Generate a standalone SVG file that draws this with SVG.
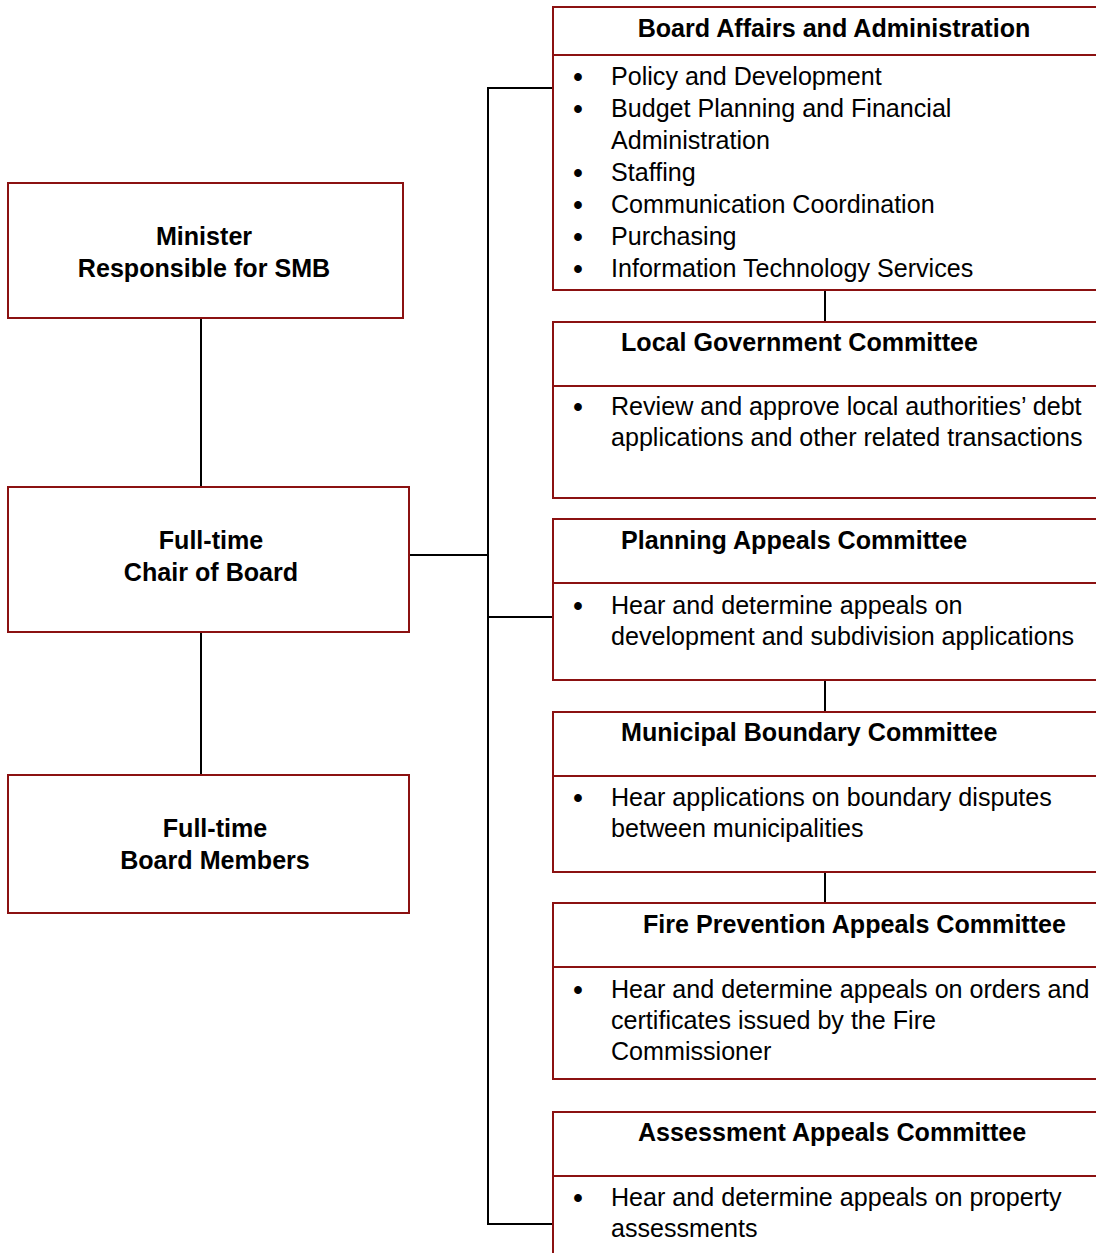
<svg xmlns="http://www.w3.org/2000/svg" width="1096" height="1253" viewBox="0 0 1096 1253">
<style>
.box{fill:#fff;stroke:#8B1111;stroke-width:2}
.div{stroke:#8B1111;stroke-width:2}
.con{stroke:#000;stroke-width:2;fill:none}
.t{font-family:"Liberation Sans",Arial,sans-serif;font-size:25.1px;fill:#000}
.b{font-weight:bold}
.c{text-anchor:middle}
.u{font-family:"Liberation Sans",Arial,sans-serif;font-size:27px;font-weight:bold;fill:#000;text-anchor:middle}
</style>
<rect width="1096" height="1253" fill="#fff"/>
<g id="connectors">
<line class="con" x1="201" y1="318" x2="201" y2="487"/>
<line class="con" x1="201" y1="632" x2="201" y2="775"/>
<line class="con" x1="409" y1="555" x2="488" y2="555"/>
<polyline class="con" points="553,88 488,88 488,1224 553,1224"/>
<line class="con" x1="488" y1="617" x2="553" y2="617"/>
<line class="con" x1="825" y1="290" x2="825" y2="322"/>
<line class="con" x1="825" y1="680" x2="825" y2="712"/>
<line class="con" x1="825" y1="872" x2="825" y2="903"/>
</g>
<g id="minister">
<rect class="box" x="8" y="183" width="395" height="135"/>
<text class="t b c" x="204" y="245">Minister</text>
<text class="t b c" x="204" y="277">Responsible for SMB</text>
</g>
<g id="chair">
<rect class="box" x="8" y="487" width="401" height="145"/>
<text class="t b c" x="211" y="549">Full-time</text>
<text class="t b c" x="211" y="581">Chair of Board</text>
</g>
<g id="members">
<rect class="box" x="8" y="775" width="401" height="138"/>
<text class="t b c" x="215" y="837">Full-time</text>
<text class="t b c" x="215" y="869">Board Members</text>
</g>
<g id="board-affairs">
<rect class="box" x="553" y="7" width="560" height="283"/>
<line class="div" x1="553" y1="55" x2="1100" y2="55"/>
<text class="t b c" x="834" y="37">Board Affairs and Administration</text>
<text class="u" x="578" y="86">•</text><text class="t" x="611" y="85">Policy and Development</text>
<text class="u" x="578" y="118">•</text><text class="t" x="611" y="117">Budget Planning and Financial</text>
<text class="t" x="611" y="149">Administration</text>
<text class="u" x="578" y="182">•</text><text class="t" x="611" y="181">Staffing</text>
<text class="u" x="578" y="214">•</text><text class="t" x="611" y="213">Communication Coordination</text>
<text class="u" x="578" y="246">•</text><text class="t" x="611" y="245">Purchasing</text>
<text class="u" x="578" y="278">•</text><text class="t" x="611" y="277">Information Technology Services</text>
</g>
<g id="local-government">
<rect class="box" x="553" y="322" width="560" height="176"/>
<line class="div" x1="553" y1="386" x2="1100" y2="386"/>
<text class="t b" x="621" y="351">Local Government Committee</text>
<text class="u" x="578" y="416">•</text><text class="t" x="611" y="415">Review and approve local authorities’ debt</text>
<text class="t" x="611" y="446">applications and other related transactions</text>
</g>
<g id="planning-appeals">
<rect class="box" x="553" y="519" width="560" height="161"/>
<line class="div" x1="553" y1="583" x2="1100" y2="583"/>
<text class="t b" x="621" y="549">Planning Appeals Committee</text>
<text class="u" x="578" y="615">•</text><text class="t" x="611" y="614">Hear and determine appeals on</text>
<text class="t" x="611" y="645">development and subdivision applications</text>
</g>
<g id="municipal-boundary">
<rect class="box" x="553" y="712" width="560" height="160"/>
<line class="div" x1="553" y1="776" x2="1100" y2="776"/>
<text class="t b" x="621" y="741">Municipal Boundary Committee</text>
<text class="u" x="578" y="807">•</text><text class="t" x="611" y="806">Hear applications on boundary disputes</text>
<text class="t" x="611" y="837">between municipalities</text>
</g>
<g id="fire-prevention">
<rect class="box" x="553" y="903" width="560" height="176"/>
<line class="div" x1="553" y1="967" x2="1100" y2="967"/>
<text class="t b" x="643" y="933">Fire Prevention Appeals Committee</text>
<text class="u" x="578" y="999">•</text><text class="t" x="611" y="998">Hear and determine appeals on orders and</text>
<text class="t" x="611" y="1029">certificates issued by the Fire</text>
<text class="t" x="611" y="1060">Commissioner</text>
</g>
<g id="assessment-appeals">
<rect class="box" x="553" y="1112" width="560" height="160"/>
<line class="div" x1="553" y1="1176" x2="1100" y2="1176"/>
<text class="t b" x="638" y="1141">Assessment Appeals Committee</text>
<text class="u" x="578" y="1207">•</text><text class="t" x="611" y="1206">Hear and determine appeals on property</text>
<text class="t" x="611" y="1237">assessments</text>
</g>
</svg>
